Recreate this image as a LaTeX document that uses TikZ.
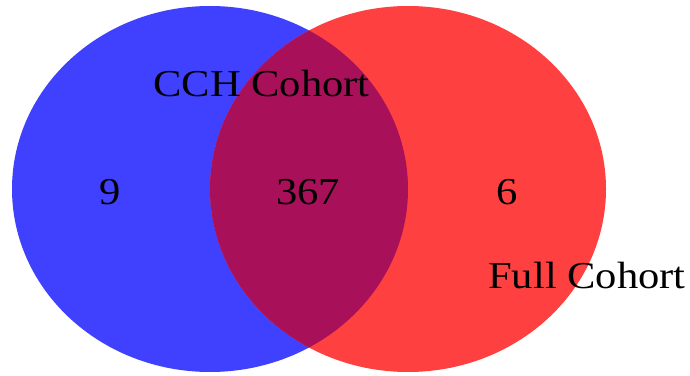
\documentclass[tikz,border=0pt]{standalone}
\usepackage{fontspec}
\setmainfont{Liberation Serif}
\definecolor{setA}{RGB}{64,64,255}
\definecolor{setB}{RGB}{255,64,64}
\definecolor{setAB}{RGB}{168,16,90}
\begin{document}
\begin{tikzpicture}[x=1pt,y=1pt,
  lbl/.style={font=\fontsize{38}{40}\selectfont, text=black, inner sep=0pt, xscale=1.12}]
\useasboundingbox (0,0) rectangle (690,375);
\fill[white] (0,0) rectangle (690,375);
% the two sets
\fill[setA] (210,186) ellipse [x radius=198, y radius=183];
\fill[setB] (408,186) ellipse [x radius=198, y radius=183];
% their intersection
\begin{scope}
  \clip (210,186) ellipse [x radius=198, y radius=183];
  \fill[setAB] (408,186) ellipse [x radius=198, y radius=183];
\end{scope}
% set names and counts
\node[lbl, anchor=base west] (nameA) at (153,278) {CCH Cohort};
\node[lbl, anchor=base west] (nameB) at (488,87) {Full Cohort};
\node[lbl, anchor=base] (onlyA) at (110,170) {9};
\node[lbl, anchor=base] (both) at (308,170) {367};
\node[lbl, anchor=base] (onlyB) at (507,170) {6};
\end{tikzpicture}
\end{document}
